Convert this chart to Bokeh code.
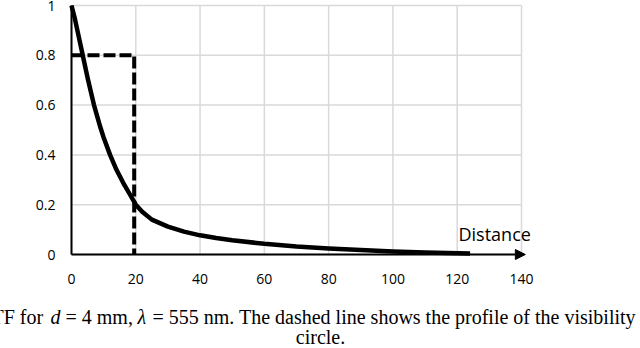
from bokeh.plotting import figure
from bokeh.models import Range1d, Label, Arrow, NormalHead, FixedTicker, LinearAxis
from bokeh.embed import file_html
from bokeh.resources import INLINE

# ---- data ----
curve_x = [0, 1, 2, 3, 4, 5, 6, 7, 8, 9, 10, 12, 14, 16, 18, 20, 22, 25, 30, 35,
           40, 45, 50, 60, 70, 80, 90, 100, 110, 124]
curve_y = [1.0, 0.95, 0.89, 0.83, 0.77, 0.71, 0.655, 0.60, 0.555, 0.51, 0.47, 0.40,
           0.34, 0.29, 0.245, 0.200, 0.172, 0.140, 0.112, 0.092, 0.077, 0.066, 0.057,
           0.043, 0.032, 0.024, 0.018, 0.012, 0.008, 0.004]
dash_x = [0, 19.5, 19.5]
dash_y = [0.8, 0.8, 0.0]
x_ticks = [0, 20, 40, 60, 80, 100, 120, 140]
y_ticks = [0, 0.2, 0.4, 0.6, 0.8, 1]
y_tick_labels = {0: "0", 0.2: "0.2", 0.4: "0.4", 0.6: "0.6", 0.8: "0.8", 1: "1"}
axis_title = "Distance"
caption_parts = [("TF for", "normal", -9), ("d", "italic", 50),
                 ("= 4 mm,", "normal", 65), ("λ", "italic", 137),
                 ("= 555 nm. The dashed line shows the profile of the visibility", "normal", 152)]
caption_line2 = "circle."

# frame covers whole canvas; data area 0..140 x 0..1 mapped to pixels 71..521 x 254..5
px_per_x = 450 / 140.0
px_per_y = 249.0
x0_px, y0_px = 71, 254
W, H = 640, 348
xr = Range1d(-x0_px / px_per_x, (W - x0_px) / px_per_x)
yr = Range1d(-(H - y0_px) / px_per_y, y0_px / px_per_y)

def dx(px):
    return (px - x0_px) / px_per_x

def dy(py):
    return (y0_px - py) / px_per_y

TEXT_SHIFT = 8  # label baseline correction (pixels)

p = figure(width=W, height=H, min_border=0, x_range=xr, y_range=yr,
           x_axis_type=None, y_axis_type=None,
           output_backend="svg", toolbar_location=None)
p.outline_line_color = None
p.background_fill_color = "white"
p.border_fill_color = "white"

grid_col = "#d9d9d9"
p.segment(x0=[0] * len(y_ticks), y0=y_ticks, x1=[140] * len(y_ticks), y1=y_ticks,
          line_color=grid_col, line_width=1.5)
p.segment(x0=x_ticks, y0=[0] * len(x_ticks), x1=x_ticks, y1=[1] * len(x_ticks),
          line_color=grid_col, line_width=1.5)

tick_font = "Open Sans"
yaxis = LinearAxis(fixed_location=0, bounds=(0, 1), ticker=FixedTicker(ticks=y_ticks),
                   major_label_overrides=y_tick_labels)
xaxis = LinearAxis(fixed_location=0, bounds=(0, 140), ticker=FixedTicker(ticks=x_ticks))
for ax in (xaxis, yaxis):
    ax.major_tick_line_color = None
    ax.minor_tick_line_color = None
    ax.major_label_text_font = tick_font
    ax.major_label_text_font_size = "14px"
    ax.major_label_text_color = "black"
xaxis.major_label_standoff = 13
yaxis.major_label_standoff = 10
xaxis.axis_line_color = None
yaxis.axis_line_color = "black"
yaxis.axis_line_width = 2
p.add_layout(yaxis, "left")
p.add_layout(xaxis, "below")

# dashed profile
p.line(dash_x, dash_y, line_color="black", line_width=4, line_dash="12 4")
# curve
p.line(curve_x, curve_y, line_color="black", line_width=4.5, line_join="round")

# x axis arrow
p.add_layout(Arrow(x_start=0, y_start=0, x_end=141.2, y_end=0, line_color="black", line_width=2,
                   end=NormalHead(size=10, fill_color="black", line_color="black")))

p.add_layout(Label(x=dx(458), y=dy(241 - TEXT_SHIFT), text=axis_title,
                   text_font="Open Sans", text_font_size="18px", text_color="black",
                   text_baseline="alphabetic"))

for txt, style, xpx in caption_parts:
    p.add_layout(Label(x=dx(xpx), y=dy(324 - TEXT_SHIFT), text=txt, text_font="Liberation Serif",
                       text_font_size="20px", text_font_style=style, text_color="black",
                       text_baseline="alphabetic", text_align="left"))
p.add_layout(Label(x=dx(320), y=dy(344 - TEXT_SHIFT), text=caption_line2,
                   text_font="Liberation Serif", text_font_size="20px", text_color="black",
                   text_baseline="alphabetic", text_align="center"))

open("out.html", "w").write(file_html(p, INLINE))
